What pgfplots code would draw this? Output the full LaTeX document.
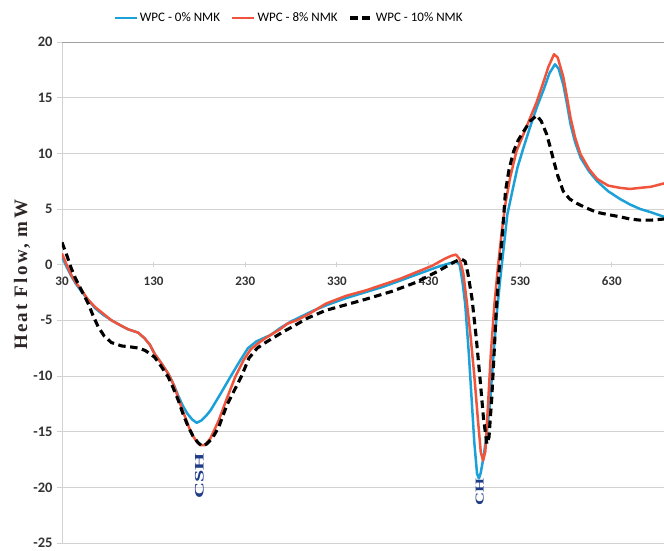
\documentclass[border=0pt]{standalone}
\usepackage{pgfplots}
\pgfplotsset{compat=1.18}
\usepackage{fontspec}
\setmainfont{Carlito}
\newfontfamily\serifb{Liberation Serif}
\newfontfamily\serifsp[LetterSpace=12]{Liberation Serif}
\definecolor{cblue}{HTML}{1BA1D8}
\definecolor{cred}{HTML}{F0543C}
\definecolor{labblue}{HTML}{1F3C88}
\definecolor{ylabc}{HTML}{2E2626}
\definecolor{tickc}{HTML}{333333}
\definecolor{gridc}{HTML}{D2D2D2}
\begin{document}
\begin{tikzpicture}
\useasboundingbox (-62pt,-7pt) rectangle (602pt,543pt);
\begin{axis}[
  scale only axis, width=602pt, height=501pt,
  xmin=30, xmax=687, ymin=-25, ymax=20,
  axis x line=middle, axis y line=left,
  axis line style={-, draw=gridc, line width=0.8pt},
  hide obscured x ticks=false, hide obscured y ticks=false,
  xtick={30,130,230,330,430,530,630},
  ytick={-25,-20,-15,-10,-5,0,5,10,15,20},
  ymajorgrids, grid style={gridc, line width=0.8pt},
  tick style={gridc, line width=0.8pt},
  major tick length=5pt,
  xtick align=center, ytick align=outside,
  /pgf/number format/assume math mode=true,
  yticklabel style={font=\fontsize{14.5}{14.5}\selectfont\bfseries, text=tickc, xshift=-1pt},
  xticklabel style={font=\fontsize{13}{13}\selectfont\bfseries, text=tickc, yshift=-6pt},
  ylabel={Heat Flow, mW},
  ylabel style={font=\serifsp\fontsize{19}{19}\selectfont\bfseries, text=ylabc,
    at={(rel axis cs:0,0.535)}, anchor=center, yshift=40pt},
  legend style={at={(0.377,1)}, anchor=center, yshift=24pt, draw=none, fill=none,
    legend columns=3, font=\fontsize{13}{13}\selectfont,
    /tikz/every even column/.append style={column sep=9pt}},
  legend image code/.code={\draw[#1] (0pt,0pt) -- (22pt,0pt);},
]
\draw[gray!75, line width=0.8pt] (rel axis cs:0,1) -- (rel axis cs:1,1);
\node[rotate=90, text=labblue, font=\serifb\fontsize{13}{13}\selectfont\bfseries] at (axis cs:180,-19.0) {\scalebox{1.7}[1]{CSH}};

\addplot[cblue, line width=2.5pt, line join=round] coordinates {
(30,0.7) (35,-0.2) (40,-1.0) (45,-1.7) (52,-2.5) (60,-3.3) (66,-3.9) (75,-4.5) (84,-5.0) (95,-5.5) (102,-5.8) (113,-6.1) (120,-6.6) (126,-7.2) (131,-8.0) (138,-8.8) (146,-9.8) (152,-10.8) (157,-11.8) (162,-12.7) (167,-13.4) (172,-13.9) (177,-14.2) (182,-14.0) (187,-13.6) (192,-13.1) (203,-11.6) (213.6,-10.1) (224.5,-8.6) (233,-7.5) (242,-6.9) (250,-6.6) (258,-6.3) (268,-5.7) (280,-5.1) (290,-4.7) (305,-4.1) (320,-3.6) (340,-3.0) (360,-2.5) (380,-2.0) (400,-1.4) (420,-0.8) (440,-0.2) (452,0.1) (460,0.3) (464,0.0) (467,-1.5) (470,-3.5) (474,-8) (477,-12) (480,-16.0) (483,-18.8) (485,-19.2) (487,-18.7) (490,-17.3) (493,-15.5) (497,-12.5) (501,-8) (505,-4) (508,-1.5) (512,1.5) (516,4.5) (522,6.8) (527,8.7) (534,10.6) (541,12.4) (548,14.1) (556,15.8) (562,17.2) (568,18.0) (572,17.6) (577,16.2) (581,14.5) (585,12.6) (590,11.0) (596,9.6) (605,8.4) (614,7.5) (626,6.6) (639,5.9) (650,5.4) (661,5.0) (673,4.7) (687,4.3)
};
\addlegendentry{WPC - 0\% NMK}

\addplot[cred, line width=2.5pt, line join=round] coordinates {
(30,1.0) (35,0.0) (40,-0.9) (45,-1.6) (51.5,-2.3) (58,-3.1) (66,-3.8) (75,-4.4) (84,-5.0) (95,-5.5) (102,-5.8) (113,-6.1) (120,-6.6) (126,-7.2) (131,-8.0) (138,-8.8) (146,-9.8) (152,-10.8) (159,-12.5) (164,-13.6) (169,-14.7) (173,-15.4) (177,-15.9) (181,-16.2) (186,-16.2) (192,-15.6) (201,-14.0) (210,-12.0) (219,-10.1) (228,-8.6) (236,-7.6) (245,-7.0) (252,-6.6) (260,-6.2) (268,-5.8) (276,-5.3) (286,-5.0) (300,-4.4) (318,-3.5) (340,-2.8) (362,-2.3) (380,-1.8) (398,-1.3) (416,-0.7) (434,-0.1) (447,0.5) (455,0.8) (460,0.9) (464,0.5) (468,-0.8) (472,-3.5) (476,-6.5) (480,-10) (484,-14) (487,-16.8) (489.5,-17.6) (492,-16.8) (495,-12.5) (498,-8) (502,-3.5) (506,0) (510,3) (514,5.5) (519,7.8) (526,10.2) (534,11.8) (541,13.2) (548,14.6) (555,16.3) (561,17.8) (567,18.9) (571,18.6) (577,16.9) (581,15.1) (585,13.2) (590,11.4) (596,9.9) (605,8.6) (614,7.7) (626,7.1) (639,6.9) (650,6.8) (661,6.9) (673,7.0) (687,7.3)
};
\addlegendentry{WPC - 8\% NMK}

\addplot[black, line width=3.1pt, dash pattern=on 7.5pt off 4.5pt, line join=round] coordinates {
(30,2.0) (35,0.9) (40,-0.3) (44,-1.1) (50,-2.1) (58.7,-3.5) (64,-4.6) (69.6,-5.6) (76,-6.4) (84,-7.0) (95,-7.3) (106,-7.4) (114,-7.5) (120.5,-7.7) (126,-8.0) (131,-8.3) (138,-9.1) (146,-10.1) (151,-11.0) (157,-12.2) (162,-13.4) (168,-14.6) (173,-15.4) (178.6,-16.0) (183,-16.3) (188,-16.1) (194,-15.6) (201,-14.6) (210,-12.6) (218,-11.3) (226,-10.0) (234,-8.4) (243,-7.5) (252,-7.0) (262,-6.5) (272,-6.0) (281,-5.6) (298,-4.8) (318,-4.1) (340,-3.6) (361.6,-3.1) (390,-2.4) (416,-1.6) (440,-0.6) (455,0.1) (462,0.4) (466,0.5) (470,0.3) (473,-0.8) (477.4,-3) (482,-6.5) (486.4,-10.4) (490,-13.8) (493.7,-16.1) (496,-15.5) (499,-12) (501,-8.9) (504,-4) (507,-0.5) (510,2.1) (514,6.6) (518,8.6) (523,10.2) (528,11.2) (534,12.0) (541,12.9) (548,13.4) (553,12.9) (559,11.7) (563,10.5) (566.4,9.4) (571,8.0) (577,6.6) (584,5.9) (592,5.5) (602,5.1) (613.7,4.7) (626,4.5) (639,4.3) (650,4.1) (661,4.0) (673,4.0) (687,4.1)
};
\addlegendentry{WPC - 10\% NMK}

\node[rotate=90, text=labblue, font=\serifb\fontsize{12}{12}\selectfont\bfseries] at (axis cs:486,-20.4) {\scalebox{1.5}[1]{CH}};
\end{axis}
\end{tikzpicture}
\end{document}
